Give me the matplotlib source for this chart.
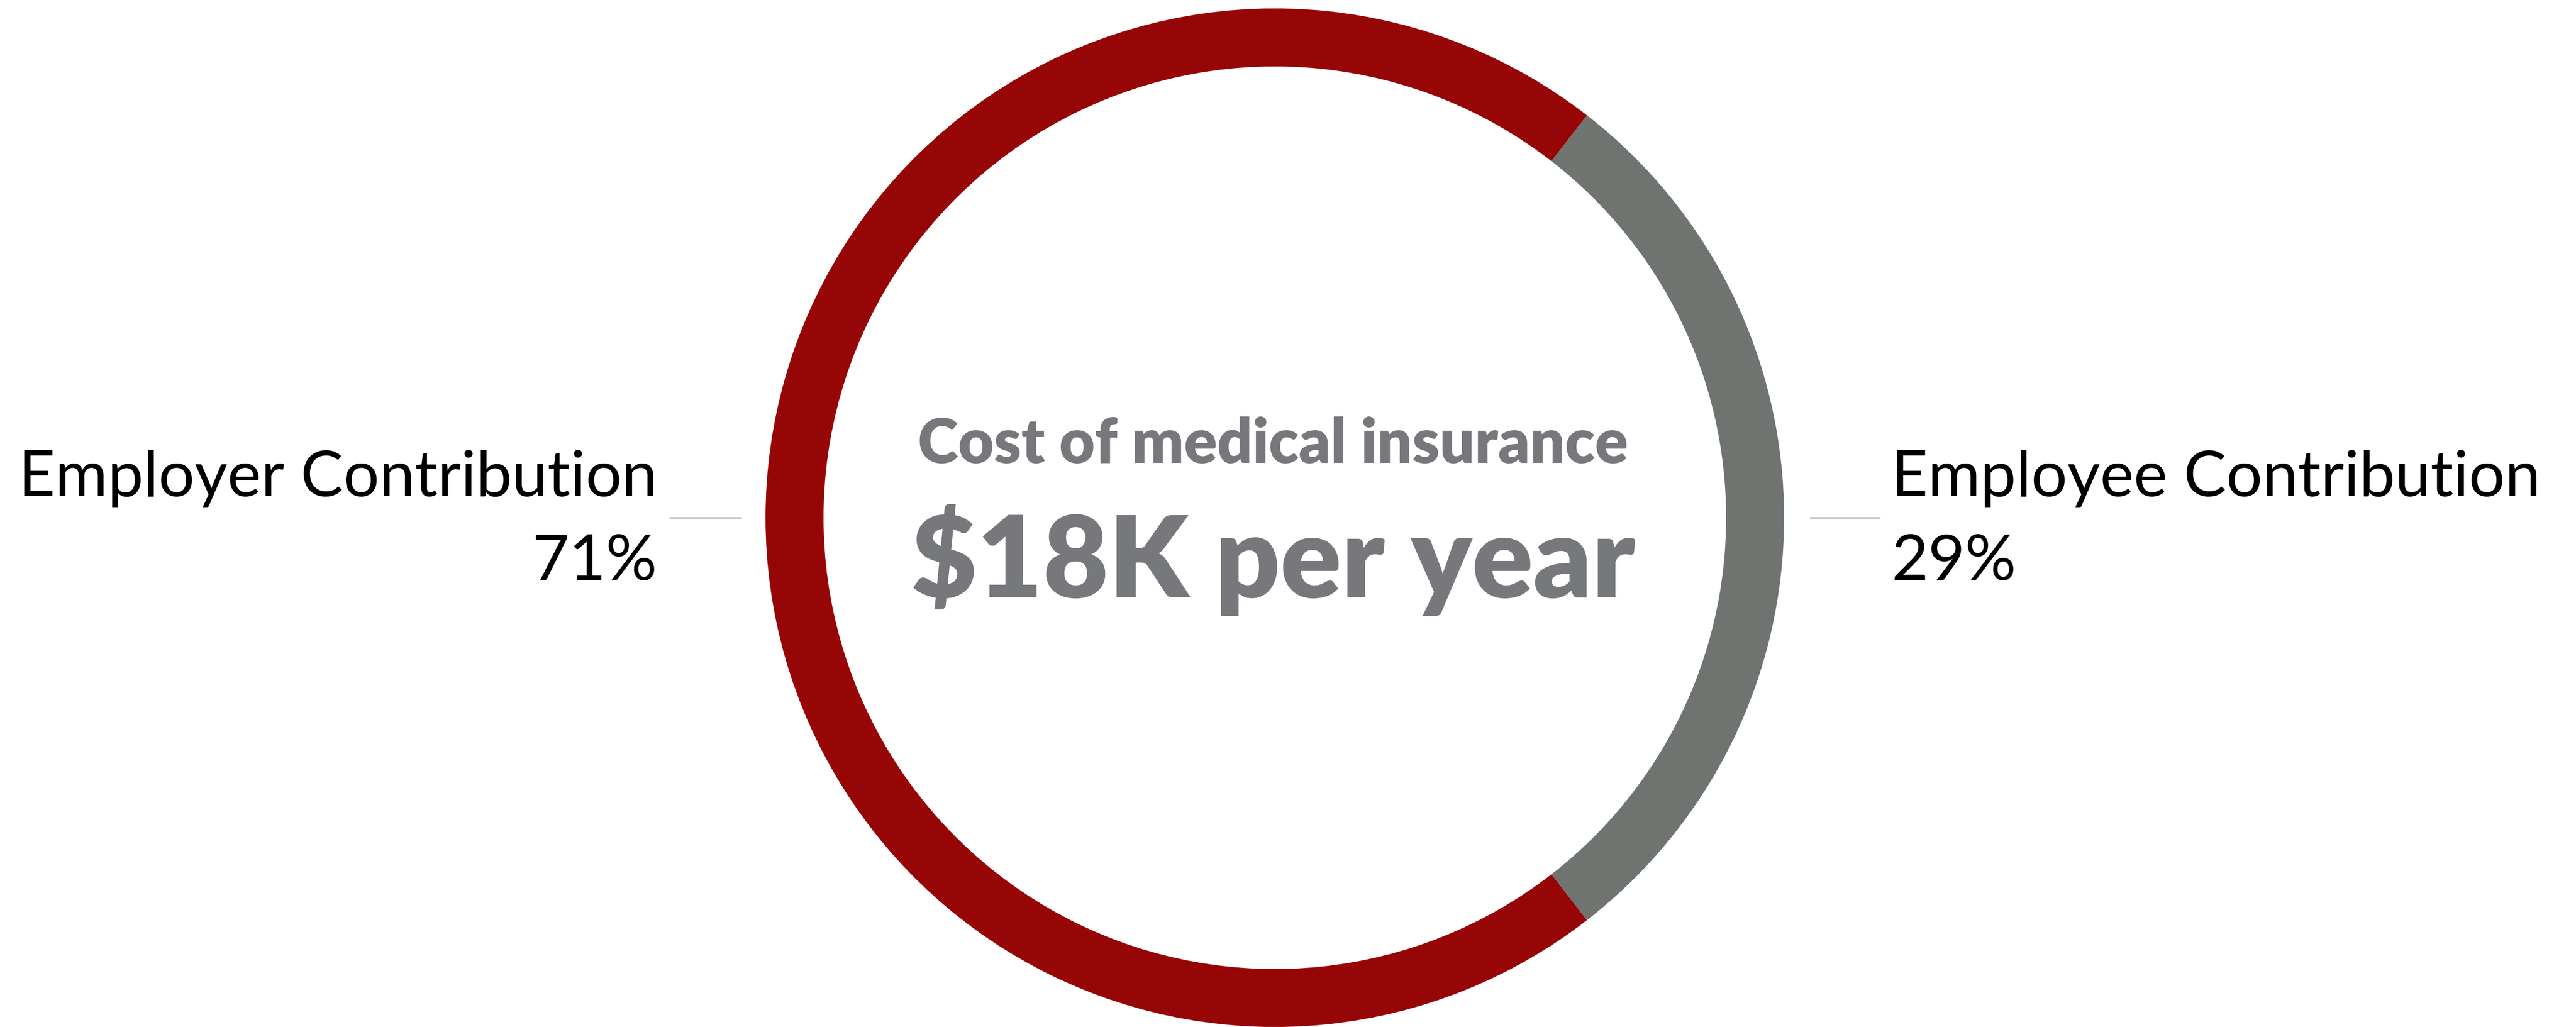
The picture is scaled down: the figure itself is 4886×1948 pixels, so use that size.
import matplotlib.pyplot as plt
import matplotlib.font_manager as fm

# Chart data
labels = ['Employee Contribution', 'Employer Contribution']
shares = [29, 71]
colours = ['#6f7471', '#970606']
title_top = 'Cost of medical insurance'
title_big = '$18K per year'

W, H = 4886, 1948
fig = plt.figure(figsize=(W / 100, H / 100), dpi=100)
ax = fig.add_axes([0, 0, 1, 1])

names = {f.name for f in fm.fontManager.ttflist}
font = 'Lato' if 'Lato' in names else 'DejaVu Sans'

cx, cy = 2418, H - 982
r_out = 966
ring = 110

# gray wedge centred on the right side
start = -shares[0] / 100 * 180
ax.pie(shares, colors=colours, startangle=start, counterclock=True,
       center=(cx, cy), radius=r_out, frame=True,
       wedgeprops=dict(width=ring, linewidth=0))
ax.set_xlim(0, W)
ax.set_ylim(0, H)
ax.set_aspect('equal')
ax.axis('off')

# leader lines
ax.plot([1271, 1405], [cy, cy], color='#b5b5b5', lw=2)
ax.plot([3434, 3565], [cy, cy], color='#b5b5b5', lw=2)

# side labels
side = dict(fontsize=87, family=font, fontweight='normal', color='black',
            va='baseline')
ax.text(1247, H - 941, labels[1], ha='right', **side)
ax.text(1247, H - 1100, f'{shares[1]}%', ha='right', **side)
ax.text(3587, H - 941, labels[0], ha='left', **side)
ax.text(3587, H - 1100, f'{shares[0]}%', ha='left', **side)

# centre text
ax.text(cx - 3, H - 878, title_top, ha='center', va='baseline',
        fontsize=84, family=font, fontweight='heavy', color='#77787b')
ax.text(cx - 3, H - 1133, title_big, ha='center', va='baseline',
        fontsize=155, family=font, fontweight='heavy', color='#77787b')

fig.savefig('out.png', dpi=100, facecolor='white')
